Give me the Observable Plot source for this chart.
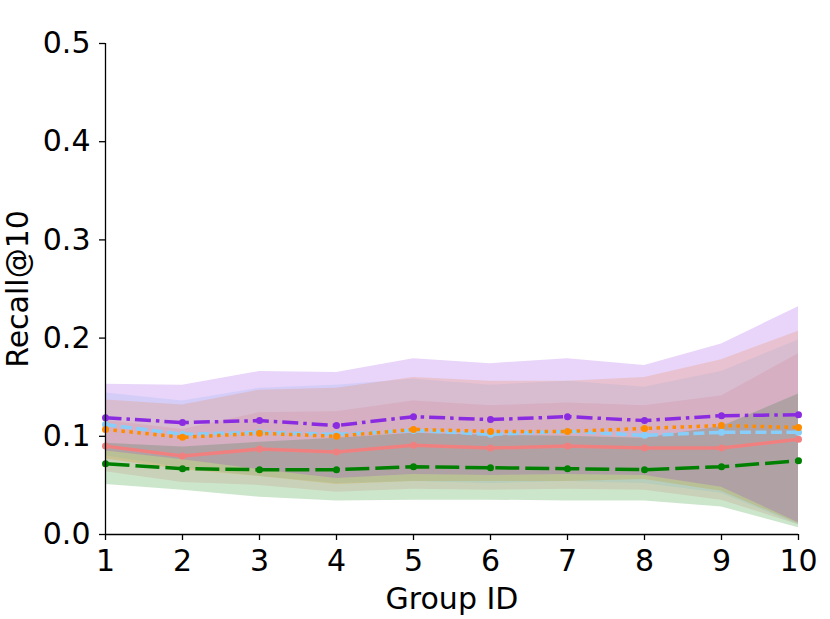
<!DOCTYPE html>
<html><head><meta charset="utf-8">
<script src="https://cdn.jsdelivr.net/npm/d3@7"></script>
<script src="https://cdn.jsdelivr.net/npm/@observablehq/plot@0.6"></script>
<style>html,body{margin:0;padding:0;background:#fff} svg{display:block}</style>
</head><body><div id="chart"></div>
<script>
const groups = [1,2,3,4,5,6,7,8,9,10];
const yTicks = [0, 0.1, 0.2, 0.3, 0.4, 0.5];
const xLabel = "Group ID";
const yLabel = "Recall@10";

const seriesNames = ["coral", "skyblue", "orange", "green", "violet"];
const coralMean   = [0.090,0.080,0.087,0.084,0.091,0.088,0.090,0.088,0.088,0.097];
const coralStd    = [0.026,0.027,0.037,0.041,0.045,0.043,0.044,0.043,0.053,0.087];
const skyblueMean = [0.112,0.102,0.104,0.102,0.106,0.102,0.105,0.101,0.104,0.104];
const skyblueStd  = [0.032,0.034,0.045,0.050,0.052,0.050,0.051,0.049,0.062,0.094];
const orangeMean  = [0.107,0.099,0.103,0.100,0.107,0.105,0.105,0.108,0.111,0.109];
const orangeStd   = [0.030,0.033,0.044,0.049,0.053,0.051,0.051,0.052,0.067,0.098];
const greenMean   = [0.072,0.067,0.066,0.066,0.069,0.068,0.067,0.066,0.069,0.075];
const greenStd    = [0.021,0.022,0.028,0.032,0.034,0.033,0.033,0.032,0.041,0.068];
const violetMean  = [0.119,0.114,0.116,0.111,0.120,0.117,0.120,0.116,0.121,0.122];
const violetStd   = [0.034,0.038,0.050,0.054,0.059,0.057,0.059,0.056,0.073,0.110];

const means = {coral: coralMean, skyblue: skyblueMean, orange: orangeMean, green: greenMean, violet: violetMean};
const stds = {coral: coralStd, skyblue: skyblueStd, orange: orangeStd, green: greenStd, violet: violetStd};
const styles = {
  coral:   {color: "#f08080", dash: null},
  skyblue: {color: "#87cefa", dash: "11,4.5"},
  orange:  {color: "#ff8c00", dash: "3.5,4.5"},
  green:   {color: "#008000", dash: "24,6"},
  violet:  {color: "#8a2be2", dash: "16,5,3.5,5"}
};

const rows = seriesNames.flatMap(s => groups.map((g, i) => ({
  series: s, group: g, mean: means[s][i],
  lo: means[s][i] - stds[s][i], hi: means[s][i] + stds[s][i]
})));

const font = "DejaVu Sans";
const marks = [];
for (const s of seriesNames) {
  marks.push(Plot.areaY(rows.filter(d => d.series === s), {x: "group", y1: "lo", y2: "hi", fill: styles[s].color, fillOpacity: 0.2}));
}
for (const s of seriesNames) {
  const data = rows.filter(d => d.series === s);
  marks.push(Plot.line(data, {x: "group", y: "mean", stroke: styles[s].color, strokeWidth: 3.5, strokeDasharray: styles[s].dash, strokeLinecap: "butt"}));
  marks.push(Plot.dot(data, {x: "group", y: "mean", r: 3.5, fill: styles[s].color}));
}
marks.push(Plot.ruleY([0], {x1: groups[0], x2: groups[groups.length-1], stroke: "black", strokeWidth: 1.3}));
marks.push(Plot.ruleX([groups[0]], {y1: yTicks[0], y2: yTicks[yTicks.length-1], stroke: "black", strokeWidth: 1.3}));
marks.push(Plot.axisX({ticks: groups, tickFormat: d => String(d), tickSize: 6, tickPadding: 9, fontSize: 30, label: null, strokeWidth: 1.3}));
marks.push(Plot.axisY({ticks: yTicks, tickFormat: d => d.toFixed(1), tickSize: 6, tickPadding: 9, fontSize: 30, label: null, strokeWidth: 1.3}));
marks.push(Plot.text([xLabel], {frameAnchor: "bottom", dy: 65, lineAnchor: "middle", fontSize: 30, fill: "black"}));
marks.push(Plot.text([yLabel], {frameAnchor: "left", dx: -87, rotate: -90, lineAnchor: "middle", textAnchor: "middle", fontSize: 30, fill: "black"}));

const chart = Plot.plot({
  width: 830, height: 619,
  marginLeft: 105, marginRight: 32, marginTop: 43, marginBottom: 85,
  style: {fontFamily: font, fontSize: "30px", background: "white", color: "black"},
  x: {domain: [1, 10], axis: null},
  y: {domain: [0, 0.5], axis: null},
  marks
});
document.getElementById("chart").appendChild(chart);
</script>
</body></html>
